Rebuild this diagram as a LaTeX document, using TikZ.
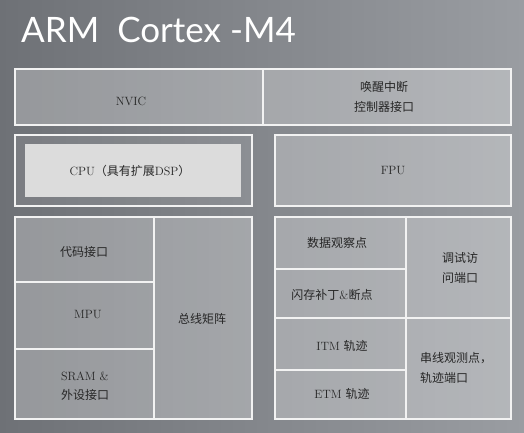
\documentclass[tikz,border=0pt]{standalone}
\usepackage{fontspec}
\newfontfamily\cjk{Noto Sans CJK SC}
\newfontfamily\titlefont{Lato}
\definecolor{bgleft}{HTML}{6E7176}
\definecolor{bgright}{HTML}{9A9DA2}
\definecolor{cpufill}{HTML}{DCDCDC}
\definecolor{rule}{HTML}{F2F2F2}
\newcommand{\zh}[1]{{\cjk #1}}

\begin{document}
\begin{tikzpicture}[x=1pt,y=-1pt,
        cell/.style={draw=rule, line width=1.3pt, fill=white, fill opacity=0.27, text opacity=1},
        label/.style={inner sep=0pt, text=black!85, font=\fontsize{12}{19.5}\selectfont}]
        \useasboundingbox (0,0) rectangle (524,433);
        \shade [left color=bgleft, right color=bgright] (0,0) rectangle (524,433);
        \node (title) [anchor=base west, inner sep=0pt, text=white, font=\titlefont\fontsize{35}{35}\selectfont] at (21,43) {ARM\ \ Cortex -M4};
        % top row
        \draw [cell] (15,69) rectangle (263,125);
        \draw [cell] (263,69) rectangle (511,125);
        \node (nvic) [label] at (131,101) {NVIC};
        \node (wic) [label, align=center] at (384,97) {\zh{唤醒中断}\\\zh{控制器接口}};
        % cpu and fpu
        \draw [draw=rule, line width=1.3pt, fill=white, fill opacity=0.08] (15,135) rectangle (252,206);
        \fill [cpufill] (25,144) rectangle (241,197);
        \node (cpu) [label] at (130,171) {CPU\zh{（具有扩展}DSP\zh{）}};
        \draw [cell] (275,135) rectangle (511,206);
        \node (fpu) [label] at (393,171) {FPU};
        % bus side
        \draw [cell] (15,217) rectangle (154,282);
        \draw [cell] (15,282) rectangle (154,349);
        \draw [cell] (15,349) rectangle (154,419);
        \draw [cell] (154,217) rectangle (252,419);
        \node (code) [label] at (84,252) {\zh{代码接口}};
        \node (mpu) [label] at (88,315) {MPU};
        \node (sram) [label, align=left] at (85,386) {SRAM \&\\\zh{外设接口}};
        \node (matrix) [label] at (202,319) {\zh{总线矩阵}};
        % debug side
        \draw [cell] (275,217) rectangle (406,269);
        \draw [cell] (275,269) rectangle (406,318);
        \draw [cell] (275,318) rectangle (406,370);
        \draw [cell] (275,370) rectangle (406,419);
        \draw [cell] (406,217) rectangle (511,318);
        \draw [cell] (406,318) rectangle (511,419);
        \node (dwt) [label] at (337,243) {\zh{数据观察点}};
        \node (fpb) [label] at (332,295) {\zh{闪存补丁}\&\zh{断点}};
        \node (itm) [label] at (342,346) {ITM \zh{轨迹}};
        \node (etm) [label] at (342,394) {ETM \zh{轨迹}};
        \node (dap) [label, align=left, anchor=west] at (442,268) {\zh{调试访}\\\zh{问端口}};
        \node (tpiu) [label, align=left, anchor=west] at (420,368) {\zh{串线观测点，}\\\zh{轨迹端口}};
\end{tikzpicture}
\end{document}
